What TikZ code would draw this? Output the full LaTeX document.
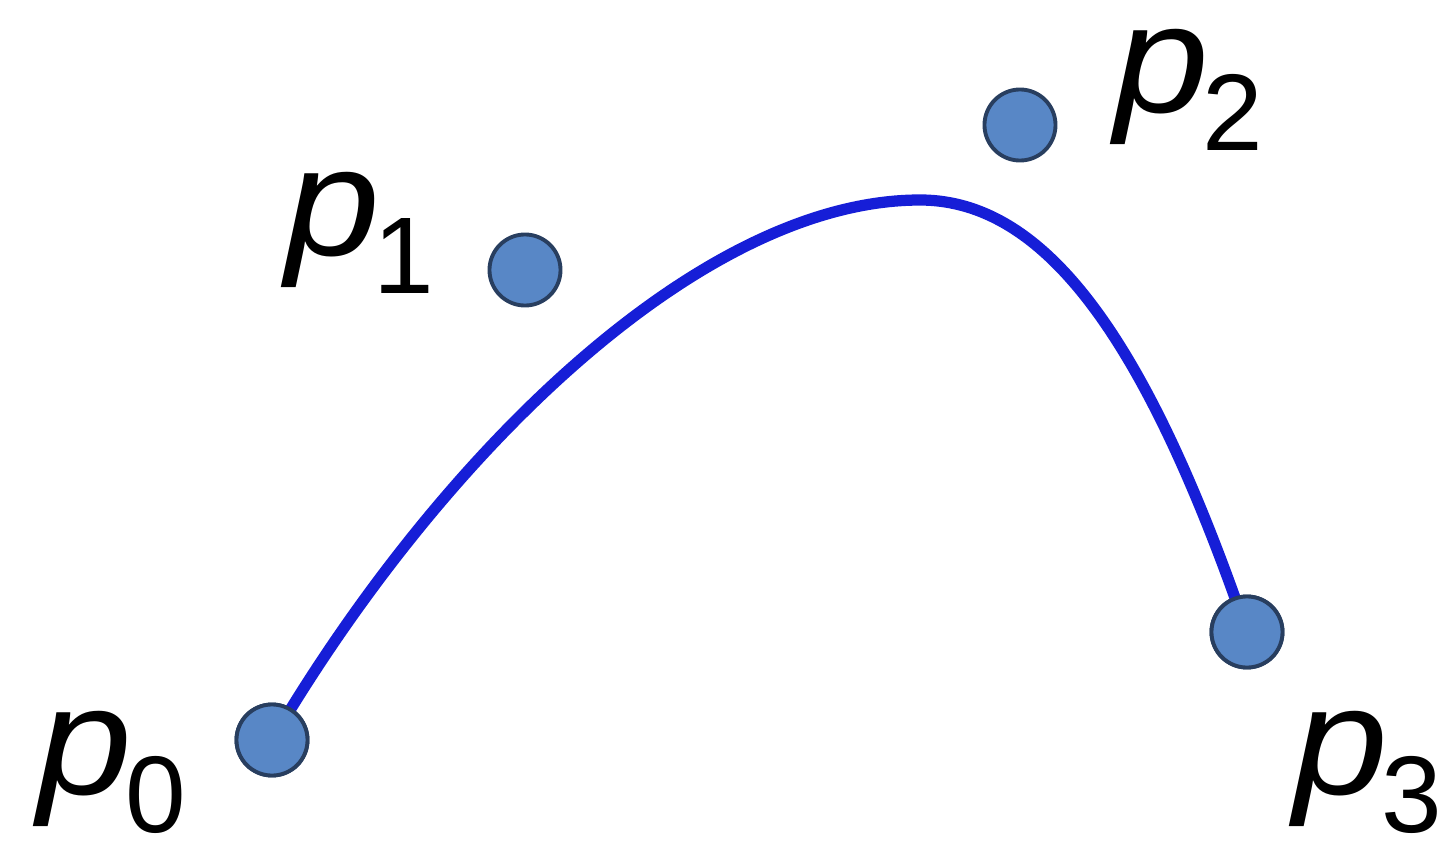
\documentclass[tikz,border=0pt]{standalone}
\usepackage{fontspec}
\setmainfont{Liberation Sans}
\definecolor{dotfill}{RGB}{88,135,198}
\definecolor{dotline}{RGB}{40,62,95}
\definecolor{curveblue}{RGB}{22,30,215}
\newcommand{\plabel}[1]{\scalebox{1.1}[1]{\fontsize{44pt}{50pt}\selectfont\itshape p}\kern-2pt\raisebox{-11pt}{\fontsize{31pt}{36pt}\selectfont #1}}
\begin{document}
\begin{tikzpicture}[x=0.01cm,y=-0.01cm,
  ctrlpt/.style={circle,draw=dotline,line width=1.1pt,fill=dotfill,minimum size=0.71cm,inner sep=0pt},
  plab/.style={anchor=base west,inner sep=0pt,text=black},
  curve/.style={draw=curveblue,line width=3.2pt}]
\useasboundingbox (0,0) rectangle (1456,842);
\coordinate (c1) at (440,455);
\coordinate (c2) at (700,200);
\coordinate (top) at (920,200);
\coordinate (c3) at (1050,200);
\coordinate (c4) at (1150,350);
\node[ctrlpt] (p0) at (272,740) {};
\node[ctrlpt] (p1) at (525,270) {};
\node[ctrlpt] (p2) at (1020,125) {};
\node[ctrlpt] (p3) at (1247,632) {};
\draw[curve] (p0.center) .. controls (c1) and (c2) .. (top) .. controls (c3) and (c4) .. (p3.center);
\node[ctrlpt] at (p0) {};
\node[ctrlpt] at (p3) {};
\node[plab] (l0) at (37,794) {\plabel{0}};
\node[plab] (l1) at (285,255) {\plabel{1}};
\node[plab] (l2) at (1114,112) {\plabel{2}};
\node[plab] (l3) at (1293,794) {\plabel{3}};
\end{tikzpicture}
\end{document}
